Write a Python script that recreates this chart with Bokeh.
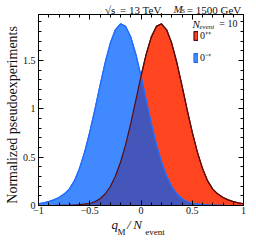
from bokeh.plotting import figure
from bokeh.models import Range1d, FixedTicker, LinearAxis, Label, Legend, LegendItem
from bokeh.embed import file_html
from bokeh.resources import INLINE

# ---- data -------------------------------------------------------------
q_over_n = [-1.00, -0.95, -0.90, -0.85, -0.80, -0.75, -0.70, -0.65, -0.60, -0.55,
            -0.50, -0.45, -0.40, -0.35, -0.30, -0.25, -0.20, -0.15, -0.10, -0.05,
            0.00, 0.05, 0.10, 0.15, 0.20, 0.25, 0.30, 0.35, 0.40, 0.45,
            0.50, 0.55, 0.60, 0.65, 0.70, 0.75, 0.80, 0.85, 0.90, 0.95, 1.00]
blue_cp_odd = [0.018, 0.027, 0.040, 0.058, 0.082, 0.118, 0.170, 0.254, 0.384, 0.552,
               0.758, 0.992, 1.239, 1.476, 1.677, 1.817, 1.879, 1.852, 1.741, 1.562,
               1.337, 1.091, 0.849, 0.630, 0.447, 0.302, 0.194, 0.119, 0.070, 0.039,
               0.021, 0.015, 0.009, 0.005, 0.003, 0.002, 0.001, 0.0, 0.0, 0.0, 0.0]
red_cp_even = [0.0, 0.0, 0.0, 0.0, 0.001, 0.002, 0.003, 0.005, 0.009, 0.015,
               0.021, 0.039, 0.070, 0.119, 0.194, 0.302, 0.447, 0.630, 0.849, 1.091,
               1.337, 1.562, 1.741, 1.852, 1.879, 1.817, 1.677, 1.476, 1.239, 0.992,
               0.758, 0.552, 0.384, 0.254, 0.170, 0.118, 0.082, 0.058, 0.040, 0.027, 0.018]
series_labels = ["0\u207a\u207a", "0\u207b\u207a"]
x_major = [-1, -0.5, 0, 0.5, 1]
x_minor = [-0.9, -0.8, -0.7, -0.6, -0.4, -0.3, -0.2, -0.1, 0.1, 0.2, 0.3, 0.4,
           0.6, 0.7, 0.8, 0.9]
x_tick_text = {-1: "\u22121", -0.5: "\u22120.5", 0: "0", 0.5: "0.5", 1: "1"}
y_major = [0, 0.5, 1, 1.5]
y_minor = [0.1, 0.2, 0.3, 0.4, 0.6, 0.7, 0.8, 0.9, 1.1, 1.2, 1.3, 1.4, 1.6, 1.7, 1.8, 1.9]
y_tick_text = {0: "0", 0.5: "0.5", 1: "1", 1.5: "1.5"}
title_parts = {-0.3: "\u221as", 0.005: "= 13 TeV,", 0.712: "= 1500 GeV"}
y_title = "Normalized pseudoexperiments\u2002\u2009"
x_title_main = "q\u2002\u2009/\u2009N\u2003\u2003\u2009"
x_title_sub = "M\u2003\u2003\u2009event"

SERIF = "Liberation Serif"
INK = "#111111"
RED_FILL, RED_LINE = "#FF4520", "#5C0A0A"
BLUE_FILL, BLUE_LINE = "#4189FF", "#1F6EFF"
OVERLAP_FILL = "#4556BA"

p = figure(width=256, height=244, output_backend="svg", toolbar_location=None,
           x_range=Range1d(-1, 1), y_range=Range1d(0, 1.975),
           min_border_left=38, min_border_right=13, min_border_top=11,
           min_border_bottom=37)
p.grid.visible = False
p.outline_line_color = "black"
p.background_fill_color = "white"
p.border_fill_color = "white"

def style_axis(ax, ticks, minor, overrides, show_labels):
    ax.ticker = FixedTicker(ticks=ticks, minor_ticks=minor)
    ax.major_tick_in = 5
    ax.major_tick_out = 0
    ax.minor_tick_in = 3
    ax.minor_tick_out = 0
    ax.axis_line_color = "black"
    ax.major_tick_line_color = "black"
    ax.minor_tick_line_color = "black"
    ax.major_label_overrides = overrides
    ax.major_label_text_font = SERIF
    ax.major_label_text_color = INK
    ax.axis_label_text_font = SERIF
    ax.axis_label_text_color = INK
    if show_labels:
        ax.major_label_text_font_size = "10px"
    else:
        ax.major_label_text_font_size = "0px"
        ax.major_label_standoff = 0

xa = p.xaxis[0]
style_axis(xa, x_major, x_minor, x_tick_text, True)
xa.major_label_standoff = 1
xa.axis_label = x_title_main
xa.axis_label_text_font_size = "13px"
xa.axis_label_text_font_style = "italic"
xa.axis_label_standoff = 0

ya = p.yaxis[0]
style_axis(ya, y_major, y_minor, y_tick_text, True)
ya.major_label_standoff = 3
ya.axis_label = y_title
ya.axis_label_text_font_size = "14px"
ya.axis_label_text_font_style = "normal"
ya.axis_label_standoff = 0

top_ax = LinearAxis()
style_axis(top_ax, x_major, x_minor, x_tick_text, False)
p.add_layout(top_ax, "above")
right_ax = LinearAxis()
style_axis(right_ax, y_major, y_minor, y_tick_text, False)
p.add_layout(right_ax, "right")

# title row: an extra top axis whose tick labels carry the roman parts
title_ax = LinearAxis(ticker=FixedTicker(ticks=list(title_parts.keys()), minor_ticks=[]),
                      major_label_overrides=title_parts)
title_ax.axis_line_color = None
title_ax.major_tick_line_color = None
title_ax.minor_tick_line_color = None
title_ax.major_tick_in = 0
title_ax.major_tick_out = 0
title_ax.major_label_standoff = -1
title_ax.major_label_text_font = SERIF
title_ax.major_label_text_font_size = "11px"
title_ax.major_label_text_color = INK
p.add_layout(title_ax, "above")

# ---- glyphs -----------------------------------------------------------
poly_x = q_over_n + [q_over_n[-1], q_over_n[0]]
red_poly = red_cp_even + [0, 0]
blue_poly = blue_cp_odd + [0, 0]
overlap = [min(a, b) for a, b in zip(red_cp_even, blue_cp_odd)] + [0, 0]

r_red = p.patch(poly_x, red_poly, fill_color=RED_FILL, line_color=RED_LINE, line_width=1.2)
r_blue = p.patch(poly_x, blue_poly, fill_color=BLUE_FILL, line_color=BLUE_LINE, line_width=1.2)
p.patch(poly_x, overlap, fill_color=OVERLAP_FILL, line_color=None)
p.line(q_over_n, blue_cp_odd, line_color=BLUE_LINE, line_width=1.2)
p.line(q_over_n, red_cp_even, line_color=RED_LINE, line_width=1.2)

legend = Legend(items=[LegendItem(label=series_labels[0], renderers=[r_red]),
                       LegendItem(label=series_labels[1], renderers=[r_blue])],
                location=(155, 141), glyph_width=5, glyph_height=11, label_height=11,
                spacing=8, padding=0, margin=0, background_fill_alpha=0,
                border_line_alpha=0, label_text_font=SERIF, label_text_font_size="10px",
                label_standoff=2, label_text_baseline="middle", label_text_color=INK)
p.add_layout(legend, "center")

def lab(txt, x, y, size, style="normal", align="left", place="center"):
    p.add_layout(Label(x=x, y=y, x_units="screen", y_units="screen", text=txt,
                       text_font=SERIF, text_font_size=size, text_font_style=style,
                       text_align=align, text_baseline="alphabetic",
                       text_color=INK), place)

# legend title N_event = 10 (inside the frame)
lab("N", 154, 182, "11px", "italic")
lab("event", 161, 179, "7px", "italic")
lab("= 10", 199, 182, "10px", "normal", "right")

# italic pieces of the title, hosted in the narrow right panel
lab("M", -70, 197, "11px", "italic", "left", "right")
lab("S", -71, 195, "7px", "italic", "left", "right")

# subscripts of the x title, in the bottom panel
lab(x_title_sub, 79, 13, "9px", "normal", "left", "below")

open("out.html", "w").write(file_html(p, INLINE))
